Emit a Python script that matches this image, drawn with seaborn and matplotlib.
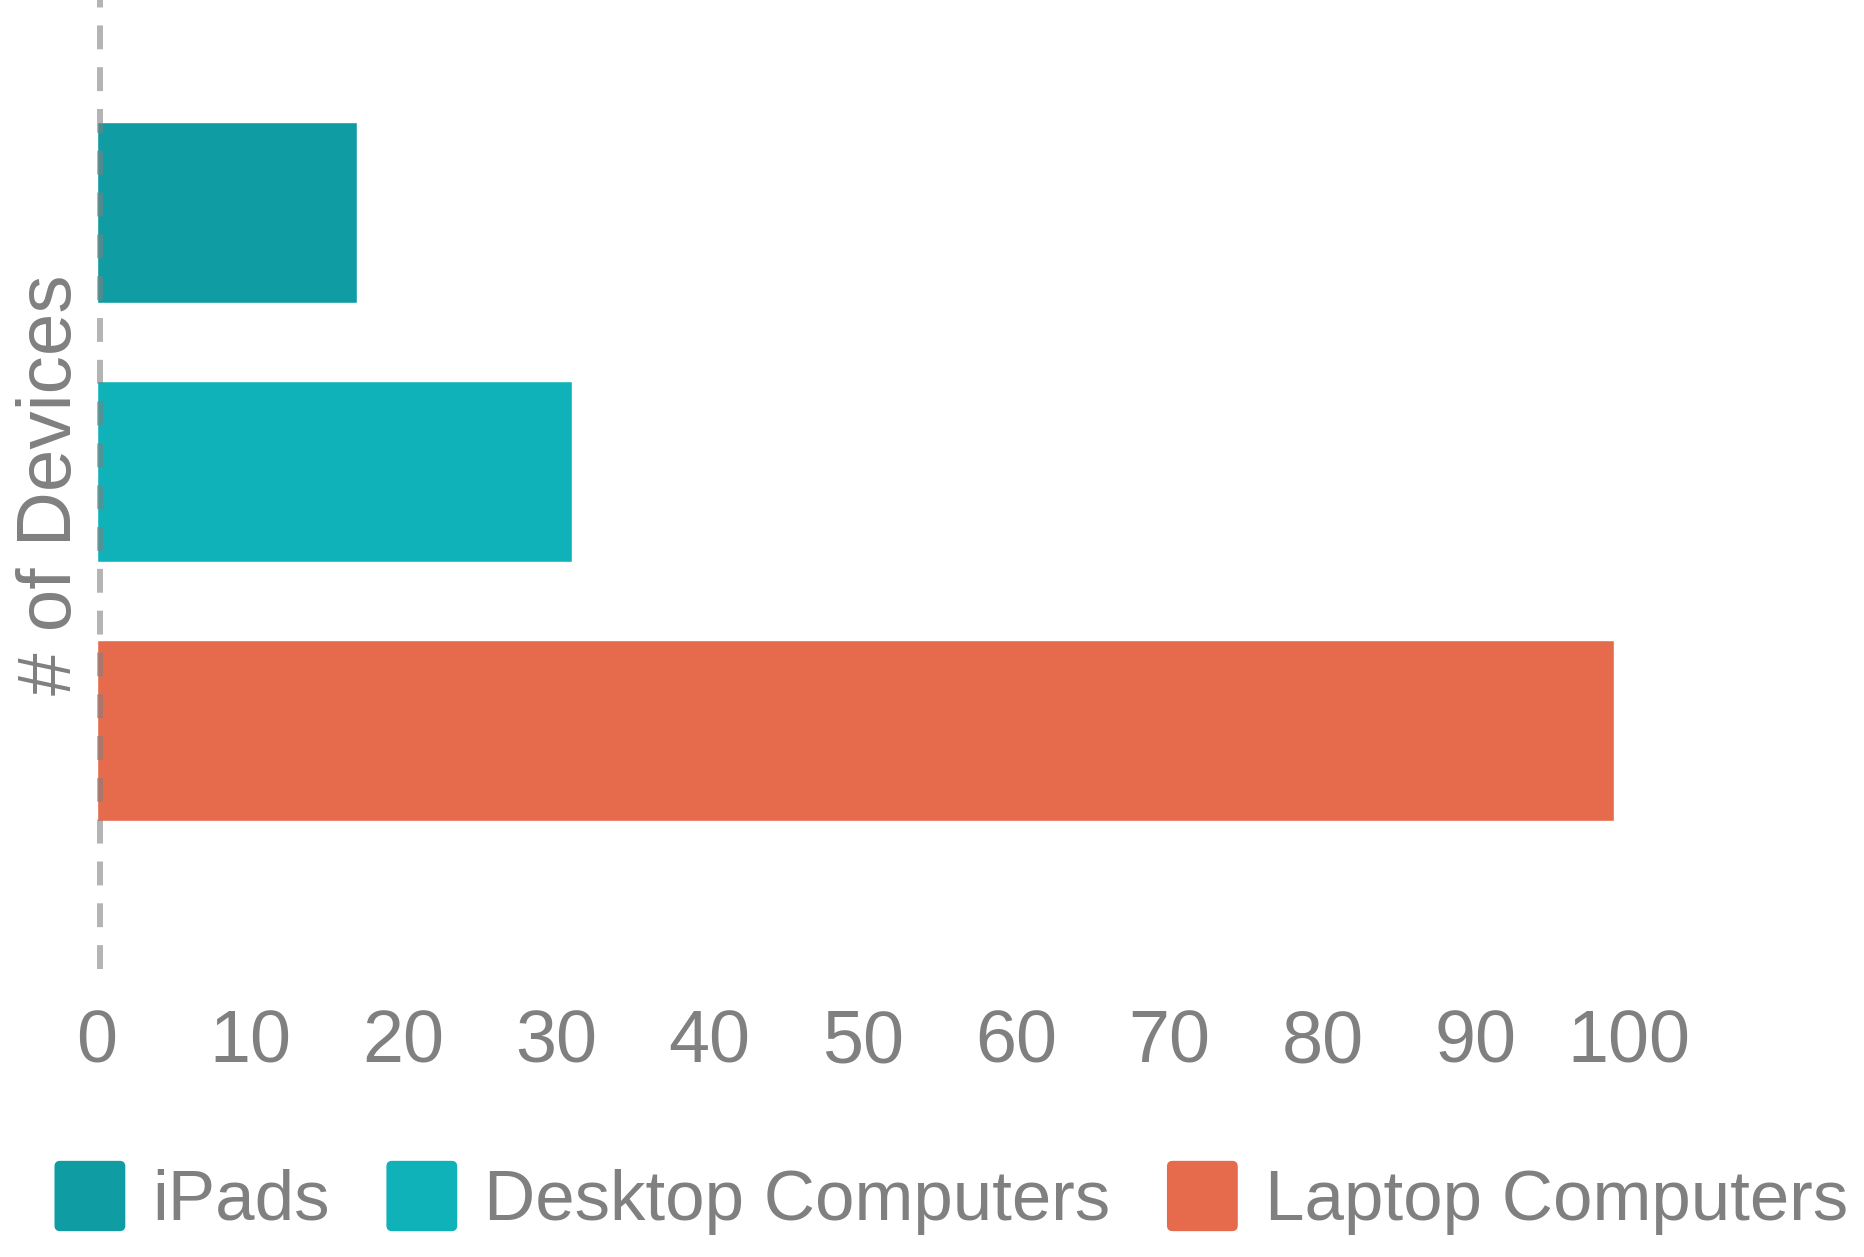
import pandas as pd
import seaborn as sns
import matplotlib.pyplot as plt
from matplotlib.patches import Patch, FancyBboxPatch
from matplotlib.legend_handler import HandlerPatch

devices = ['iPads', 'Desktop Computers', 'Laptop Computers']
counts = [17, 31, 99]
colors = ['#0f9da3', '#10b2ba', '#e66b4d']
xticks = list(range(0, 101, 10))

df = pd.DataFrame({'device': devices, 'count': counts})

sns.set_style('white')
plt.rcParams['font.family'] = ['Liberation Sans', 'DejaVu Sans']
grey = '#808080'


def rounded_box(legend, orig_handle, xdescent, ydescent, width, height, fontsize):
    # legend swatch with softly rounded corners
    return FancyBboxPatch((-xdescent, -ydescent), width, height,
                          boxstyle='round,pad=0,rounding_size=4')


fig = plt.figure(figsize=(18.65, 12.57), dpi=100)
ax = fig.add_axes([0.052, 0.229, 0.8214, 0.771])
sns.barplot(data=df, x='count', y='device', hue='device', palette=colors,
            dodge=False, width=0.7, saturation=1, legend=False, ax=ax)

ax.set_xlim(0, 100)
ax.set_ylim(2.92, -0.82)
ax.set_xticks(xticks)
ax.set_xticklabels([str(t) for t in xticks])
ax.tick_params(axis='x', length=0, pad=28, labelsize=53, labelcolor=grey)
ax.set_yticks([])
ax.set_xlabel('')
ax.set_ylabel('# of Devices', fontsize=55, color=grey, labelpad=7)
for s in ax.spines.values():
    s.set_visible(False)

ax.axvline(0.2, color='#7f7f7f', alpha=0.58, lw=4.3, ls=(0, (4, 3)), zorder=5)

handles = [Patch(facecolor=c, edgecolor='none') for c in colors]
fig.legend(handles, devices, loc='center', bbox_to_anchor=(0.51, 0.047), ncol=3,
           frameon=False, fontsize=51, handlelength=1.0, handleheight=1.15,
           handletextpad=0.38, columnspacing=0.8, labelcolor=grey,
           handler_map={Patch: HandlerPatch(patch_func=rounded_box)})

fig.savefig('out.png', dpi=100)
